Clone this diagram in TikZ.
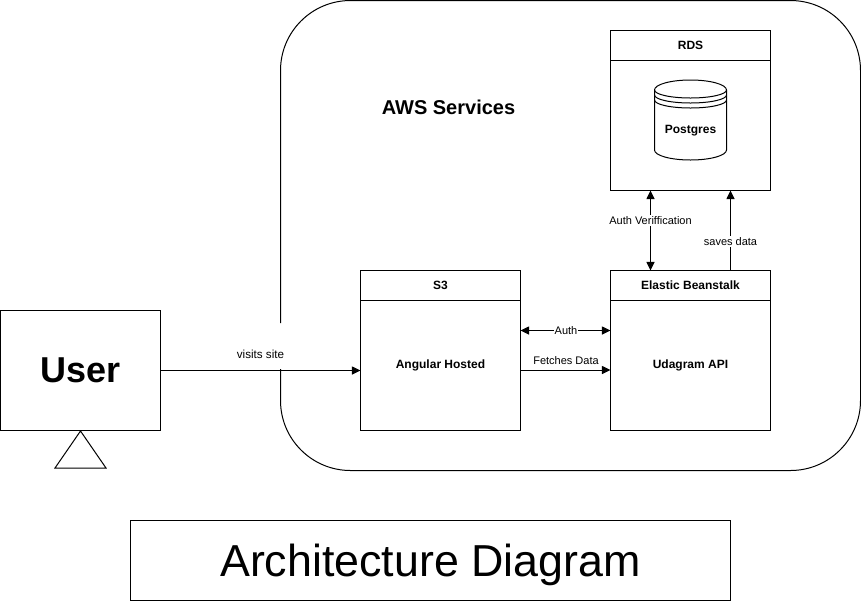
\documentclass[tikz,border=0pt]{standalone}
\usepackage{fontspec}
\setmainfont{Liberation Sans}
\usetikzlibrary{arrows.meta}
\tikzset{
  x=0.75pt,y=-0.75pt,
  every path/.style={line width=0.75pt},
  box/.style={draw,line width=0.75pt,inner sep=0pt,outer sep=0pt,anchor=north west},
  lanehead/.style={box,font=\fontsize{9pt}{11pt}\selectfont\bfseries,minimum height=22.5pt},
  wide/.style={minimum width=120pt},
  lbl/.style={font=\fontsize{8.25pt}{10pt}\selectfont,fill=white,inner sep=1pt},
  plainlbl/.style={font=\fontsize{8.25pt}{10pt}\selectfont,inner sep=0pt},
  conn/.style={-{Triangle[length=6.4pt,width=6pt]}},
  bothconn/.style={{Triangle[length=6.4pt,width=6pt]}-{Triangle[length=6.4pt,width=6pt]}},
}
\begin{document}
\begin{tikzpicture}
\useasboundingbox (0,0) rectangle (861,601);
\path[fill=white] (0,0) rectangle (861,601);

% AWS region outline, open where the site link label sits
\coordinate (gapTop) at (280.5,323);
\coordinate (gapBottom) at (280.5,369);
\draw[rounded corners=52.5pt] (gapTop) -- (280.5,0.5) -- (860.5,0.5) -- (860.5,470.5) -- (280.5,470.5) -- (gapBottom);
\node[font=\fontsize{15pt}{18pt}\selectfont\bfseries,inner sep=0pt] (aws) at (448.5,107.5) {AWS Services};

% RDS
\node[lanehead,wide] (rdsHead) at (610.5,30.5) {RDS};
\node[box,wide,minimum height=97.5pt] (rdsBody) at (610.5,60.5) {};
% Postgres cylinder (y axis points down, so angles run clockwise on screen)
\draw[fill=white] (654.5,90) arc[start angle=180,end angle=360,x radius=36,y radius=10]
  -- (726.5,150) arc[start angle=0,end angle=180,x radius=36,y radius=10] -- cycle;
\draw (654.5,90) arc[start angle=180,end angle=0,x radius=36,y radius=8];
\draw (654.5,95) arc[start angle=180,end angle=0,x radius=36,y radius=8];
\draw (654.5,100) arc[start angle=180,end angle=0,x radius=36,y radius=8];
\node[font=\fontsize{9pt}{11pt}\selectfont\bfseries,inner sep=0pt] (pg) at (690.5,131) {Postgres};

% S3
\node[lanehead,wide] (s3Head) at (360.5,270.5) {S3};
\node[box,wide,minimum height=97.5pt,font=\fontsize{9pt}{11pt}\selectfont\bfseries] (s3Body) at (360.5,300.5) {Angular Hosted};

% Elastic Beanstalk
\node[lanehead,wide] (ebHead) at (610.5,270.5) {Elastic Beanstalk};
\node[box,wide,minimum height=97.5pt,font=\fontsize{9pt}{11pt}\selectfont\bfseries] (ebBody) at (610.5,300.5) {Udagram API};

% User
\node[box,minimum width=120pt,minimum height=90pt,font=\fontsize{27pt}{32pt}\selectfont\bfseries] (user) at (0.5,310.5) {User};
\draw (80.5,431) coordinate (triTop) -- (106,468) coordinate (triRight) -- (55,468) coordinate (triLeft) -- cycle;

% Title
\node[box,minimum width=450pt,minimum height=60pt,text depth=0pt,font=\fontsize{33.6pt}{40pt}\selectfont] (title) at (130.5,520.5) {Architecture Diagram};

% Connectors
\draw[conn] (user.east) -- (user.east -| s3Body.west);
\node[plainlbl,font=\fontsize{8.75pt}{10pt}\selectfont] (visits) at (260.5,354.5) {visits site};

\coordinate (authY) at (0,330.5);
\draw[bothconn] (authY -| s3Body.east) -- (authY -| ebBody.west);
\node[lbl,inner sep=0.3pt] (auth) at (566,330.5) {Auth};

\coordinate (fetchY) at (0,370);
\draw[conn] (fetchY -| s3Body.east) -- (fetchY -| ebBody.west);
\node[plainlbl] (fetch) at (566,361) {Fetches Data};

\coordinate (verifX) at (650.5,0);
\draw[bothconn] (verifX |- ebHead.north) -- (verifX |- rdsBody.south);
\node[lbl] (verif) at (650.5,220.5) {Auth Veriffication};

\coordinate (saveX) at (730.5,0);
\draw[conn] (saveX |- ebHead.north) -- (saveX |- rdsBody.south);
\node[lbl] (save) at (730.5,241.5) {saves data};
\end{tikzpicture}
\end{document}
